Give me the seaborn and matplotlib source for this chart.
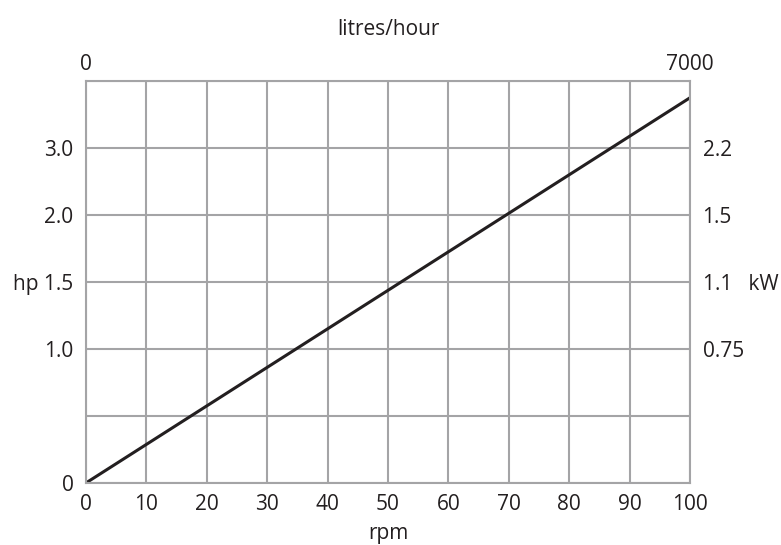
import numpy as np
import pandas as pd
import matplotlib
matplotlib.use("Agg")
import matplotlib.pyplot as plt
import seaborn as sns

# data
rpm = [0, 100]
power_row = [0, 5.75]          # position in grid rows (0..6)

# left axis (hp) labels at grid rows
hp_rows = [0, 2, 3, 4, 5]
hp_labels = ["0", "1.0", "hp 1.5", "2.0", "3.0"]

# right axis (kW) labels at grid rows
kw_rows = [2, 3, 4, 5]
kw_labels = ["0.75", "1.1   kW", "1.5", "2.2"]

# top axis (litres/hour)
lph_pos = [0, 100]
lph_labels = ["0", "7000"]

rpm_ticks = list(range(0, 101, 10))

df = pd.DataFrame({"rpm": rpm, "row": power_row})

sns.set_style("white")
plt.rcParams["font.family"] = ["Open Sans", "DejaVu Sans"]
fs = 15

grid_col = "#a4a4a6"
text_col = "#231f20"

fig = plt.figure(figsize=(7.81, 5.45), dpi=100)
ax = fig.add_axes([0.110, 0.1138, 0.7735, 0.7376])

sns.lineplot(data=df, x="rpm", y="row", ax=ax, color=text_col, linewidth=2.2)

ax.set_xlim(0, 100)
ax.set_ylim(0, 6)
ax.set_xticks(rpm_ticks)
ax.set_yticks(hp_rows, labels=hp_labels)
ax.set_yticks(range(0, 7), minor=True)
ax.grid(True, which="major", color=grid_col, linewidth=1.5)
ax.grid(True, which="minor", axis="y", color=grid_col, linewidth=1.5)
ax.set_axisbelow(True)
ax.tick_params(which="both", length=0, labelcolor=text_col, labelsize=fs)
ax.tick_params(axis="x", pad=8)
ax.tick_params(axis="y", pad=9)
ax.set_xlabel("rpm", color=text_col, fontsize=fs, labelpad=6)
ax.set_ylabel("")
for s in ax.spines.values():
    s.set_color(grid_col)
    s.set_linewidth(1.5)

# right axis: kW
axr = ax.twinx()
axr.set_ylim(0, 6)
axr.set_yticks(kw_rows, labels=kw_labels)
axr.tick_params(length=0, pad=9, labelcolor=text_col, labelsize=fs)
for s in axr.spines.values():
    s.set_visible(False)

# top axis: litres/hour
axt = ax.twiny()
axt.set_xlim(0, 100)
axt.set_xticks(lph_pos, labels=lph_labels)
axt.tick_params(length=0, pad=4, labelcolor=text_col, labelsize=fs)
axt.set_xlabel("litres/hour", color=text_col, fontsize=fs, labelpad=14)
for s in axt.spines.values():
    s.set_visible(False)

fig.savefig("out.png", dpi=100)
